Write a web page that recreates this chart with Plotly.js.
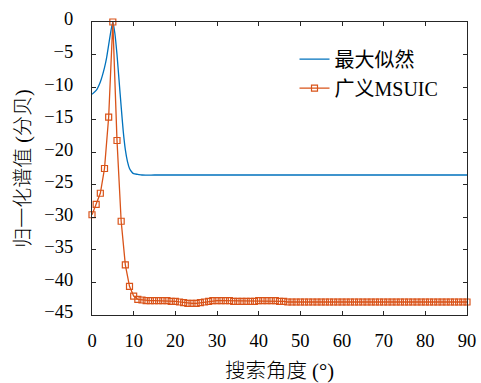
<!DOCTYPE html>
<html><head><meta charset="utf-8">
<script src="https://cdn.plot.ly/plotly-3.0.1.min.js"></script>
<style>html,body{margin:0;padding:0;background:#fff}</style>
</head><body><div id="chart" style="width:481px;height:383px"></div>
<script>
const mlAngles = [0,1,2,3,3.5,4,4.5,5,5.5,6,6.5,7,7.5,8,8.5,9,9.5,10,11,12,15,20,30,40,50,60,70,80,90];
const mlValues = [-11.1,-10.5,-9.2,-7.0,-5.5,-3.5,-1.5,0,-1.8,-5.0,-9.0,-13.0,-16.8,-19.6,-21.4,-22.5,-23.0,-23.3,-23.4,-23.5,-23.5,-23.5,-23.5,-23.5,-23.5,-23.5,-23.5,-23.5,-23.5];
const msuicAngles = Array.from({length:91},(_, i)=>i);
const msuicValues = [-29.6,-28.0,-26.3,-22.5,-14.6,0,-18.2,-30.6,-37.3,-40.6,
  -42.1,-42.6,-42.7,-42.8,-42.8,-42.8,-42.8,-42.8,-42.8,-42.9,
  -42.9,-43.0,-43.1,-43.2,-43.2,-43.2,-43.1,-43.0,-42.9,-42.8,
  -42.8,-42.8,-42.8,-42.8,-42.9,-42.9,-42.9,-42.9,-42.9,-42.9,
  -42.8,-42.8,-42.8,-42.8,-42.8,-42.9,-42.9,-43.0,-43.0,-43.0,
  -43.0,-43.0,-43.0,-43.0,-43.0,-43.0,-43.0,-43.0,-43.0,-43.0,
  -43.0,-43.0,-43.0,-43.0,-43.0,-43.0,-43.0,-43.0,-43.0,-43.0,
  -43.0,-43.0,-43.0,-43.0,-43.0,-43.0,-43.0,-43.0,-43.0,-43.0,
  -43.0,-43.0,-43.0,-43.0,-43.0,-43.0,-43.0,-43.0,-43.0,-43.0,-43.0];
const seriesNames = ['最大似然','广义MSUIC'];
const xTickVals = [0,10,20,30,40,50,60,70,80,90];
const yTickVals = [0,-5,-10,-15,-20,-25,-30,-35,-40,-45];
const xTitle = '搜索角度 (°)';
const yTitle = '归一化谱值 (分贝)';

const FONT = 'Liberation Serif, Noto Sans CJK SC, serif';
const data = [
  {x: mlAngles, y: mlValues, name: seriesNames[0], type:'scatter', mode:'lines',
   line:{color:'#0072BD', width:1.3, shape:'spline', smoothing:0.6}, cliponaxis:false},
  {x: msuicAngles, y: msuicValues, name: seriesNames[1], type:'scatter', mode:'lines+markers',
   line:{color:'#D95319', width:1.3},
   marker:{symbol:'square-open', size:6, color:'#D95319', line:{width:1.2, color:'#D95319'}},
   cliponaxis:false}
];
const axisCommon = {showline:true, mirror:'ticks', linecolor:'#262626', linewidth:1,
  ticks:'inside', ticklen:4, tickcolor:'#262626', showgrid:false, zeroline:false,
  tickfont:{family:FONT, size:18.5, color:'#000'}};
const layout = {
  width:481, height:383, paper_bgcolor:'#fff', plot_bgcolor:'#fff',
  margin:{l:92, r:14, t:22, b:68},
  showlegend:true,
  legend:{x:0.54, y:0.94, xanchor:'left', yanchor:'top', bgcolor:'rgba(255,255,255,0)',
    font:{family:FONT, size:20, color:'#000'}, tracegroupgap:0, itemwidth:30},
  xaxis: Object.assign({}, axisCommon, {range:[0,90], tickvals:xTickVals, ticklabelstandoff:9,
    title:{text:xTitle, font:{family:FONT, size:20.5, color:'#000', weight:300}, standoff:19}}),
  yaxis: Object.assign({}, axisCommon, {range:[-45,0], tickvals:yTickVals, ticklabelstandoff:14, ticklabelshift:-3,
    title:{text:yTitle, font:{family:FONT, size:20, color:'#000', weight:300}, standoff:8}})
};
Plotly.newPlot('chart', data, layout, {displayModeBar:false, staticPlot:true});
</script></body></html>
